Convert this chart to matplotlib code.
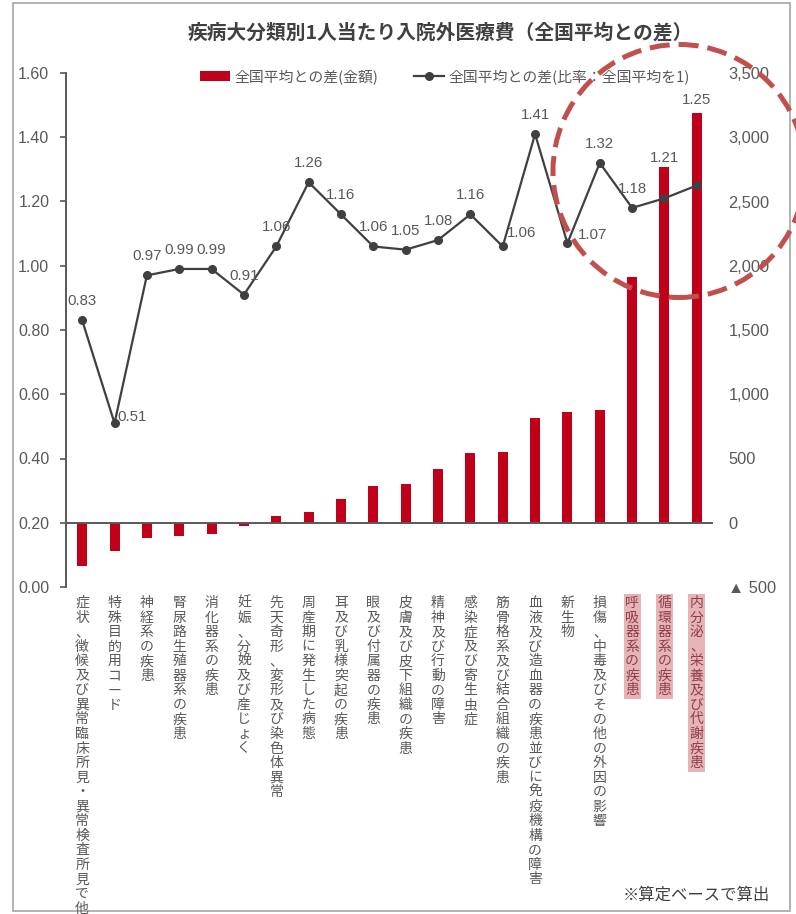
import matplotlib
matplotlib.use('Agg')
import matplotlib.pyplot as plt
import matplotlib.transforms as mtransforms
from matplotlib.patches import Ellipse, Rectangle, Patch
from matplotlib.lines import Line2D
from matplotlib.ticker import FuncFormatter, MultipleLocator

# ---------------- data ----------------
categories = [
    "症状、徴候及び異常臨床所見・異常検査所見で他",
    "特殊目的用コード",
    "神経系の疾患",
    "腎尿路生殖器系の疾患",
    "消化器系の疾患",
    "妊娠、分娩及び産じょく",
    "先天奇形、変形及び染色体異常",
    "周産期に発生した病態",
    "耳及び乳様突起の疾患",
    "眼及び付属器の疾患",
    "皮膚及び皮下組織の疾患",
    "精神及び行動の障害",
    "感染症及び寄生虫症",
    "筋骨格系及び結合組織の疾患",
    "血液及び造血器の疾患並びに免疫機構の障害",
    "新生物",
    "損傷、中毒及びその他の外因の影響",
    "呼吸器系の疾患",
    "循環器系の疾患",
    "内分泌、栄養及び代謝疾患",
]
diff_amount = [-335, -223, -122, -106, -91, -23, 49, 85, 186, 287, 303,
               419, 543, 551, 815, 862, 877, 1910, 2772, 3191]
diff_ratio = [0.83, 0.51, 0.97, 0.99, 0.99, 0.91, 1.06, 1.26, 1.16, 1.06, 1.05,
              1.08, 1.16, 1.06, 1.41, 1.07, 1.32, 1.18, 1.21, 1.25]
highlighted = ["呼吸器系の疾患", "循環器系の疾患", "内分泌、栄養及び代謝疾患"]

title = "疾病大分類別1人当たり入院外医療費（全国平均との差）"
legend_labels = ["全国平均との差(金額)", "全国平均との差(比率：全国平均を1)"]
note = "※算定ベースで算出"

# ---------------- style ----------------
JP = ['Noto Sans CJK JP', 'DejaVu Sans']
NUM = ['Liberation Sans', 'DejaVu Sans']
plt.rcParams['font.family'] = NUM
BAR_C = '#C00018'
LINE_C = '#404040'
TXT_C = '#595959'

W, H = 796, 914
fig = plt.figure(figsize=(W / 100, H / 100), dpi=100)
ax = fig.add_axes([66 / W, 1 - 587 / H, (713 - 66) / W, (587 - 73) / H])
ax2 = ax.twinx()
ax.set_zorder(3)
ax2.set_zorder(2)
ax.patch.set_visible(False)

x = list(range(len(categories)))

# bars (secondary axis)
ax2.bar(x, diff_amount, width=0.31, color=BAR_C, zorder=2)
ax2.axhline(0, color=TXT_C, lw=1.4, zorder=3)
ax2.set_ylim(-500, 3500)
ax2.yaxis.set_major_locator(MultipleLocator(500))
ax2.yaxis.set_major_formatter(FuncFormatter(
    lambda v, p: f"{v:,.0f}" if v >= 0 else f"▲ {abs(v):,.0f}"))
ax2.tick_params(axis='y', length=0, pad=11, labelsize=11.8, labelcolor=TXT_C)
for s in ax2.spines.values():
    s.set_visible(False)

# line (primary axis)
ax.plot(x, diff_ratio, color=LINE_C, lw=1.6, marker='o', ms=5.5, zorder=4)
ax.set_ylim(0, 1.6)
ax.set_xlim(-0.5, len(categories) - 0.5)
ax.yaxis.set_major_locator(MultipleLocator(0.2))
ax.yaxis.set_major_formatter(FuncFormatter(lambda v, p: f"{v:.2f}"))
ax.tick_params(axis='y', direction='out', length=4, width=1.2, color=TXT_C,
               pad=8, labelsize=11.5, labelcolor=TXT_C)
ax.set_xticks([])
ax2.set_xticks([])
for k in ['top', 'right', 'bottom']:
    ax.spines[k].set_visible(False)
ax.spines['left'].set_color(TXT_C)
ax.spines['left'].set_linewidth(1.4)

# data labels
offsets = {1: (18, 6), 13: (19, 13), 15: (25, 8), 18: (0, 40), 19: (0, 85)}
for i, v in enumerate(diff_ratio):
    dx, dy = offsets.get(i, (0, 19))
    ax.annotate(f"{v:.2f}", (i, v), xytext=(dx, dy), textcoords='offset pixels',
                ha='center', va='center', fontsize=10.8, color=TXT_C, zorder=6)

# vertical category labels
tr = mtransforms.blended_transform_factory(ax.transData, fig.transFigure)
for i, c in enumerate(categories):
    hl = c in highlighted
    kw = {}
    if hl:
        kw['bbox'] = dict(boxstyle='square,pad=0.12', facecolor='#E6B3B6',
                          edgecolor='none')
    ax.text(i, 1 - 596 / H, "\n".join(c), transform=tr, ha='center', va='top',
            fontsize=10, family=JP, linespacing=1.05,
            color='#8E4048' if hl else TXT_C, clip_on=False, **kw)

# title, legend, note
fig.text(440 / W, 1 - 33 / H, title, ha='center', va='center', fontsize=14.2,
         fontweight='bold', color=LINE_C, family=JP)
handles = [Patch(facecolor=BAR_C, edgecolor='none'),
           Line2D([], [], color=LINE_C, lw=1.6, marker='o', ms=5.5)]
leg = fig.legend(handles, legend_labels, loc='center',
                 bbox_to_anchor=(445 / W, 1 - 77 / H), ncol=2, frameon=False,
                 prop={'family': JP, 'size': 10.7}, handlelength=2.0,
                 handletextpad=0.3, columnspacing=2.4, labelcolor=TXT_C)
fig.text(770 / W, 1 - 895 / H, note, ha='right', va='center', fontsize=11.8,
         color=LINE_C, family=JP)

# frame and dashed highlight circle
fig.add_artist(Rectangle((13 / W, 1 - 911 / H), (790 - 13) / W, (911 - 3) / H,
                         transform=fig.transFigure, fill=False,
                         edgecolor='#A6A6A6', lw=1.2, zorder=0))
fig.add_artist(Ellipse((679 / W, 1 - 171 / H), 252 / W, 253 / H,
                       transform=fig.transFigure, fill=False,
                       edgecolor='#C0504D', lw=3.6, linestyle=(0, (4, 1.8)),
                       zorder=10))

fig.savefig('out.png', dpi=100)
